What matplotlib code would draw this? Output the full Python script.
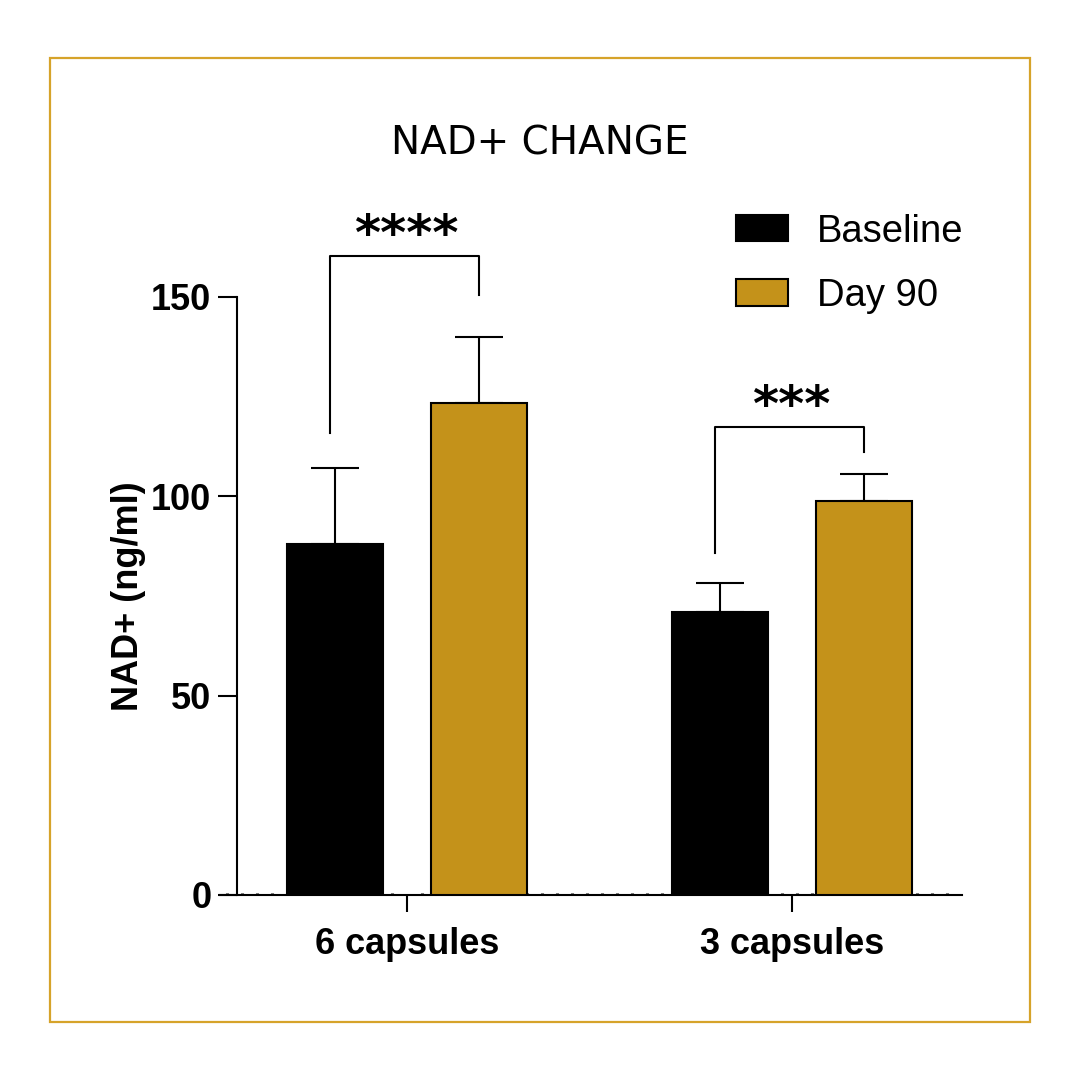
import numpy as np
import matplotlib.pyplot as plt
from matplotlib.patches import Patch, Rectangle
from matplotlib.ticker import MultipleLocator

# data
groups = ["6 capsules", "3 capsules"]
series = ["Baseline", "Day 90"]
baseline_mean = [88.0, 71.0]
baseline_err = [19.1, 7.3]
day90_mean = [123.5, 98.7]
day90_err = [16.5, 7.0]
stars = ["****", "***"]
bracket_top = [160.3, 117.4]
bracket_left = [115.9, 85.8]
bracket_right = [150.5, 111.1]
star_y = [165.4, 122.4]

gold = "#C4921A"
frame_gold = "#D6A32A"
colors = ["black", gold]

plt.rcParams["font.family"] = ["Liberation Sans", "DejaVu Sans"]

fig = plt.figure(figsize=(10.8, 10.8), dpi=100)
ax = fig.add_axes([0.2037, 0.1713, 0.687, 0.6276])

x = np.arange(len(groups))
off = 0.187
w = 0.25

ax.bar(x - off, baseline_mean, w, color=colors[0], edgecolor="black",
       linewidth=1.5, zorder=3)
ax.bar(x + off, day90_mean, w, color=colors[1], edgecolor="black",
       linewidth=1.5, zorder=3)
ax.errorbar(x - off, baseline_mean, yerr=[np.zeros(2), baseline_err],
            fmt="none", ecolor="black", elinewidth=1.5, capsize=17,
            capthick=1.5, zorder=2)
ax.errorbar(x + off, day90_mean, yerr=[np.zeros(2), day90_err],
            fmt="none", ecolor="black", elinewidth=1.5, capsize=17,
            capthick=1.5, zorder=2)

# significance brackets
for i in range(len(groups)):
    xl, xr = x[i] - off, x[i] + off
    ax.plot([xl - 0.012, xl - 0.012, xr, xr],
            [bracket_left[i], bracket_top[i], bracket_top[i], bracket_right[i]],
            color="black", lw=1.5, zorder=4, clip_on=False)
    ax.text(x[i] - 0.003, star_y[i], stars[i], ha="center", va="center",
            fontsize=36, fontweight="bold", clip_on=False,
            family=["DejaVu Sans"])

ax.set_xlim(-0.486, 1.442)
ax.set_ylim(0, 170)

for s in ["top", "right"]:
    ax.spines[s].set_visible(False)
ax.spines["left"].set_position(("data", -0.4416))
ax.spines["left"].set_bounds(0, 150)
ax.spines["left"].set_linewidth(1.5)
ax.spines["bottom"].set_linewidth(1.5)
ax.set_axisbelow(True)

ax.set_yticks([0, 50, 100, 150])
ax.tick_params(axis="y", length=13.5, width=1.5, labelsize=26, pad=5)
for lab in ax.get_yticklabels():
    lab.set_fontweight("bold")

ax.set_xticks(x)
ax.set_xticklabels(groups, fontsize=26, fontweight="bold")
ax.tick_params(axis="x", which="major", length=12, width=1.5, pad=11)
ax.xaxis.set_minor_locator(MultipleLocator(0.039))
ax.tick_params(axis="x", which="minor", direction="in", length=1.2, width=2.2)

ax.set_ylabel("NAD+ (ng/ml)", fontsize=26, fontweight="bold")
ax.yaxis.set_label_coords(-0.1, 75, transform=ax.get_yaxis_transform())

handles = [Patch(facecolor=c, edgecolor="black", linewidth=1.5) for c in colors]
leg = fig.legend(handles, series, loc="upper left",
                 bbox_to_anchor=(0.65, 0.834), frameon=False, fontsize=27.5,
                 handlelength=1.35, handleheight=0.68, handletextpad=0.75,
                 labelspacing=0.74)

fig.text(0.5, 0.867, "NAD+ CHANGE", ha="center", va="center", fontsize=28,
         family=["DejaVu Sans"])

fig.patches.append(Rectangle((50 / 1080, 1 - 1022 / 1080), 980 / 1080,
                             964 / 1080, transform=fig.transFigure,
                             fill=False, edgecolor=frame_gold, linewidth=1.6))

fig.savefig("out.png", dpi=100)
